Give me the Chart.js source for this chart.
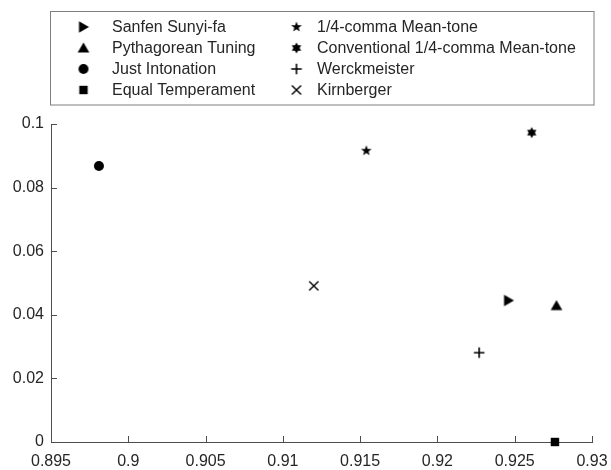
<!DOCTYPE html>
<html lang="en">
<head>
  <meta charset="UTF-8">
  <title>Tuning systems</title>
  <script src="https://cdn.jsdelivr.net/npm/chart.js"></script>
  <style>
    body {
      margin: 0;
      padding: 0;
      background: white;
    }
    .chart-container {
      position: relative;
      width: 611px;
      height: 470px;
    }
  </style>
</head>
<body>
  <div class="chart-container">
    <canvas id="tuningChart"></canvas>
  </div>
  <script>
    // Data
    const tuningNames = [
      'Sanfen Sunyi-fa', 'Pythagorean Tuning', 'Just Intonation', 'Equal Temperament',
      '1/4-comma Mean-tone', 'Conventional 1/4-comma Mean-tone', 'Werckmeister', 'Kirnberger'
    ];
    const xValues = [0.9246, 0.9277, 0.8981, 0.9276, 0.9154, 0.9261, 0.9227, 0.9120];
    const yValues = [0.0445, 0.0429, 0.0868, 0.0000, 0.0916, 0.0973, 0.0281, 0.0491];
    const markerKinds = ['triRight', 'triUp', 'circle', 'square', 'pentagram', 'hexagram', 'plus', 'cross'];

    const xTickValues = [0.895, 0.9, 0.905, 0.91, 0.915, 0.92, 0.925, 0.93];
    const yTickValues = [0, 0.02, 0.04, 0.06, 0.08, 0.1];

    const textColor = '#262626';
    const fontFamily = "'Liberation Sans', Arial, sans-serif";

    /**
     * Draw one marker shape onto a small canvas so Chart.js can use it as pointStyle
     */
    function makeMarker(kind) {
      const c = document.createElement('canvas');
      c.width = 14;
      c.height = 14;
      const ctx = c.getContext('2d');
      ctx.translate(7, 7);
      ctx.fillStyle = '#000';
      ctx.strokeStyle = '#000';
      ctx.lineWidth = 1.6;
      ctx.beginPath();
      if (kind === 'circle') {
        ctx.arc(0, 0, 5, 0, Math.PI * 2);
        ctx.fill();
      } else if (kind === 'square') {
        ctx.fillRect(-4.2, -4.2, 8.4, 8.4);
      } else if (kind === 'triUp') {
        ctx.moveTo(0, -5.5);
        ctx.lineTo(5.8, 4.5);
        ctx.lineTo(-5.8, 4.5);
        ctx.closePath();
        ctx.fill();
      } else if (kind === 'triRight') {
        ctx.moveTo(5.5, 0);
        ctx.lineTo(-4.5, 5.8);
        ctx.lineTo(-4.5, -5.8);
        ctx.closePath();
        ctx.fill();
      } else if (kind === 'pentagram') {
        for (let i = 0; i < 10; i++) {
          const r = i % 2 === 0 ? 5.6 : 2.3;
          const a = -Math.PI / 2 + i * Math.PI / 5;
          ctx.lineTo(r * Math.cos(a), r * Math.sin(a));
        }
        ctx.closePath();
        ctx.fill();
      } else if (kind === 'hexagram') {
        for (let i = 0; i < 12; i++) {
          const r = i % 2 === 0 ? 5.4 : 3.1;
          const a = -Math.PI / 2 + i * Math.PI / 6;
          ctx.lineTo(r * Math.cos(a), r * Math.sin(a));
        }
        ctx.closePath();
        ctx.fill();
      } else if (kind === 'plus') {
        ctx.moveTo(-5.3, 0);
        ctx.lineTo(5.3, 0);
        ctx.moveTo(0, -5.3);
        ctx.lineTo(0, 5.3);
        ctx.stroke();
      } else if (kind === 'cross') {
        ctx.lineWidth = 1.4;
        ctx.moveTo(-4.6, -4.6);
        ctx.lineTo(4.6, 4.6);
        ctx.moveTo(4.6, -4.6);
        ctx.lineTo(-4.6, 4.6);
        ctx.stroke();
      }
      return c;
    }

    const markers = markerKinds.map(makeMarker);

    const datasets = tuningNames.map((name, i) => ({
      label: name,
      data: [{ x: xValues[i], y: yValues[i] }],
      pointStyle: markers[i],
      backgroundColor: '#000',
      borderColor: '#000',
      clip: false,
    }));

    const fmt = (v) => String(parseFloat(Number(v).toFixed(4)));

    // Inward tick marks and the boxed two-column legend
    const decorPlugin = {
      id: 'decor',
      afterDraw(chart) {
        const ctx = chart.ctx;
        const area = chart.chartArea;
        const xs = chart.scales.x;
        const ys = chart.scales.y;
        ctx.save();
        ctx.strokeStyle = '#4d4d4d';
        ctx.lineWidth = 1;
        ctx.beginPath();
        xTickValues.forEach((v) => {
          const px = Math.round(xs.getPixelForValue(v)) + 0.5;
          ctx.moveTo(px, area.bottom);
          ctx.lineTo(px, area.bottom - 6);
        });
        yTickValues.forEach((v) => {
          const py = Math.round(ys.getPixelForValue(v)) + 0.5;
          ctx.moveTo(area.left, py);
          ctx.lineTo(area.left + 6, py);
        });
        ctx.stroke();

        // legend box
        ctx.strokeStyle = '#7f7f7f';
        ctx.strokeRect(50.5, 11.5, 543.5, 93.5);
        ctx.font = '16px ' + fontFamily;
        ctx.fillStyle = textColor;
        ctx.textBaseline = 'middle';
        const rows = [27, 48, 69, 90];
        tuningNames.forEach((name, i) => {
          const col = Math.floor(i / 4);
          const row = i % 4;
          const mx = col === 0 ? 83.5 : 296.5;
          const tx = col === 0 ? 112 : 317;
          const y = rows[row];
          ctx.drawImage(markers[i], mx - 7, y - 7);
          ctx.fillText(name, tx, y + 1);
        });
        ctx.restore();
      },
    };

    new Chart(document.getElementById('tuningChart'), {
      type: 'scatter',
      data: { datasets },
      options: {
        responsive: true,
        maintainAspectRatio: false,
        animation: false,
        layout: { padding: { top: 124, right: 19, left: 0, bottom: 0 } },
        plugins: {
          legend: { display: false },
          tooltip: { enabled: false },
        },
        scales: {
          x: {
            type: 'linear',
            min: 0.895,
            max: 0.93,
            afterBuildTicks: (scale) => { scale.ticks = xTickValues.map((v) => ({ value: v })); },
            afterFit: (scale) => {
              scale.height = 28;
              scale.paddingLeft = 0;
              scale.paddingRight = 0;
            },
            ticks: {
              callback: fmt,
              color: textColor,
              font: { family: fontFamily, size: 16 },
              padding: 10,
              maxRotation: 0,
            },
            grid: { display: false, drawTicks: false },
            border: { display: true, color: '#4d4d4d' },
          },
          y: {
            type: 'linear',
            min: 0,
            max: 0.1,
            afterBuildTicks: (scale) => { scale.ticks = yTickValues.map((v) => ({ value: v })); },
            afterFit: (scale) => {
              scale.width = 51;
              scale.paddingTop = 0;
              scale.paddingBottom = 0;
            },
            ticks: {
              callback: fmt,
              color: textColor,
              font: { family: fontFamily, size: 16 },
              padding: 7,
            },
            grid: { display: false, drawTicks: false },
            border: { display: true, color: '#4d4d4d' },
          },
        },
      },
      plugins: [decorPlugin],
    });
  </script>
</body>
</html>
